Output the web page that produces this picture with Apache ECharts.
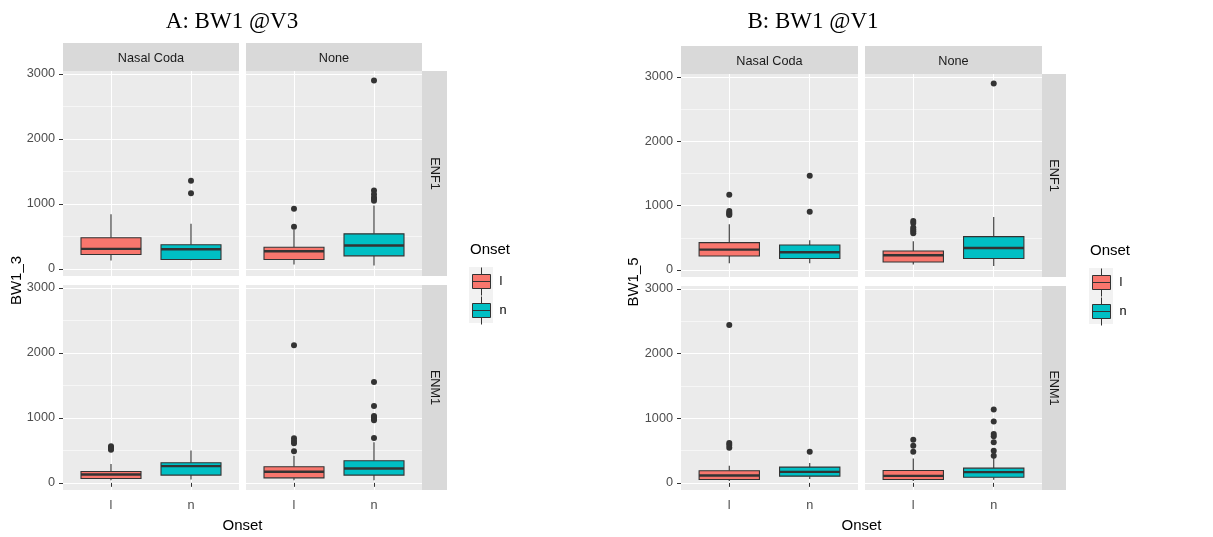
<!DOCTYPE html>
<html>
<head>
<meta charset="utf-8">
<script src="https://cdn.jsdelivr.net/npm/echarts@6/dist/echarts.min.js"></script>
<style>
  html, body { margin: 0; padding: 0; background: #ffffff; }
  #chart { width: 1213px; height: 537px; }
</style>
</head>
<body>
<div id="chart"></div>
<script>
// Factor levels
const onsetLevels = ['l', 'n'];
const codaLevels = ['Nasal Coda', 'None'];
const speakerLevels = ['ENF1', 'ENM1'];
const yTicks = [0, 1000, 2000, 3000];
const yMinorTicks = [500, 1500, 2500];
const yLimits = [-110, 3045];

// Box summaries per onset (l, n): [lower whisker, Q1, median, Q3, upper whisker]
// BW1_3 (A: BW1 @V3)
const bw13_ENF1_nasal = [[128, 220, 308, 478, 841], [133, 143, 302, 370, 693]];
const bw13_ENF1_none  = [[66, 143, 271, 333, 600], [51, 200, 359, 539, 975]];
const bw13_ENM1_nasal = [[41, 67, 129, 175, 290], [51, 119, 258, 310, 496]];
const bw13_ENM1_none  = [[41, 77, 170, 248, 418], [41, 119, 222, 341, 624]];
// outliers per onset (l, n)
const bw13_ENF1_nasal_out = [[], [1356, 1165]];
const bw13_ENF1_none_out  = [[924, 647], [2897, 1206, 1150, 1100, 1075, 1050]];
const bw13_ENM1_nasal_out = [[562, 545, 525, 508], []];
const bw13_ENM1_none_out  = [[2117, 686, 645, 609, 485], [1553, 1182, 1030, 1005, 985, 965, 692]];

// BW1_5 (B: BW1 @V1)
const bw15_ENF1_nasal = [[104, 217, 316, 425, 709], [104, 177, 275, 388, 461]];
const bw15_ENF1_none  = [[84, 124, 228, 295, 445], [62, 177, 341, 518, 822]];
const bw15_ENM1_nasal = [[31, 52, 114, 187, 264], [62, 104, 171, 244, 306]];
const bw15_ENM1_none  = [[31, 52, 109, 192, 378], [47, 88, 166, 228, 384]];
const bw15_ENF1_nasal_out = [[1170, 915, 890, 870, 853], [1464, 906]];
const bw15_ENF1_none_out  = [[760, 730, 660, 630, 600, 570], [2896]];
const bw15_ENM1_nasal_out = [[2440, 615, 585, 545], [482]];
const bw15_ENM1_none_out  = [[668, 575, 482], [1135, 948, 757, 720, 627, 497, 420]];

const fillColors = ['#F8766D', '#00BFC4'];
const ink = '#333333';
const sans = 'Liberation Sans, Arial, sans-serif';
const serif = 'Liberation Serif, Times New Roman, serif';

// Two faceted figures side by side
const figures = [
  {
    title: 'A: BW1 @V3', yTitle: 'BW1_3', titleX: 232,
    colX: [63, 246], colW: 176, rowY: [71, 285], rowH: [205, 205],
    stripTop: 43, stripRightX: 422, stripRightW: 25,
    yTitleX: 17, legendX: 469, legendY: 267,
    stats: [[bw13_ENF1_nasal, bw13_ENF1_none], [bw13_ENM1_nasal, bw13_ENM1_none]],
    outs: [[bw13_ENF1_nasal_out, bw13_ENF1_none_out], [bw13_ENM1_nasal_out, bw13_ENM1_none_out]]
  },
  {
    title: 'B: BW1 @V1', yTitle: 'BW1_5', titleX: 813,
    colX: [681, 865], colW: 177, rowY: [74, 286], rowH: [203, 204],
    stripTop: 46, stripRightX: 1042, stripRightW: 24,
    yTitleX: 634, legendX: 1089, legendY: 268,
    stats: [[bw15_ENF1_nasal, bw15_ENF1_none], [bw15_ENM1_nasal, bw15_ENM1_none]],
    outs: [[bw15_ENF1_nasal_out, bw15_ENF1_none_out], [bw15_ENM1_nasal_out, bw15_ENM1_none_out]]
  }
];

// ggplot-style box: whiskers without caps, thick median bar
function renderBox(params, api) {
  const x = api.value(0);
  const p = [1, 2, 3, 4, 5].map(i => api.coord([x, api.value(i)]));
  const half = api.size([0.75, 0])[0] / 2;
  const cx = p[0][0];
  const fill = api.visual('color');
  return {
    type: 'group',
    children: [
      { type: 'line', shape: { x1: cx, y1: p[0][1], x2: cx, y2: p[1][1] }, style: { stroke: ink, lineWidth: 1.1 } },
      { type: 'line', shape: { x1: cx, y1: p[3][1], x2: cx, y2: p[4][1] }, style: { stroke: ink, lineWidth: 1.1 } },
      { type: 'rect', shape: { x: cx - half, y: p[3][1], width: half * 2, height: p[1][1] - p[3][1] },
        style: { fill: fill, stroke: ink, lineWidth: 1.1 } },
      { type: 'line', shape: { x1: cx - half, y1: p[2][1], x2: cx + half, y2: p[2][1] }, style: { stroke: ink, lineWidth: 2.4 } }
    ]
  };
}

const grids = [], xAxes = [], yAxes = [], series = [], graphics = [], legends = [];

figures.forEach(fig => {
  // figure title
  graphics.push({ type: 'text', x: fig.titleX, y: 22,
    style: { text: fig.title, font: '23px ' + serif, fill: '#000', align: 'center', verticalAlign: 'middle' } });

  // column strips
  codaLevels.forEach((lab, c) => {
    graphics.push({ type: 'rect', shape: { x: fig.colX[c], y: fig.stripTop, width: fig.colW, height: fig.rowY[0] - fig.stripTop },
      style: { fill: '#D9D9D9' }, z: -1 });
    graphics.push({ type: 'text', x: fig.colX[c] + fig.colW / 2, y: (fig.stripTop + fig.rowY[0]) / 2 + 1,
      style: { text: lab, font: '12.7px ' + sans, fill: '#1A1A1A', align: 'center', verticalAlign: 'middle' } });
  });
  // row strips
  speakerLevels.forEach((lab, r) => {
    graphics.push({ type: 'rect', shape: { x: fig.stripRightX, y: fig.rowY[r], width: fig.stripRightW, height: fig.rowH[r] },
      style: { fill: '#D9D9D9' }, z: -1 });
    graphics.push({ type: 'text', x: fig.stripRightX + fig.stripRightW / 2, y: fig.rowY[r] + fig.rowH[r] / 2,
      rotation: -Math.PI / 2,
      style: { text: lab, font: '12.7px ' + sans, fill: '#1A1A1A', align: 'center', verticalAlign: 'middle' } });
  });

  // axis titles
  graphics.push({ type: 'text', x: fig.yTitleX, y: (fig.rowY[0] + fig.rowY[1] + fig.rowH[1]) / 2, rotation: Math.PI / 2,
    style: { text: fig.yTitle, font: '15px ' + sans, fill: '#000', align: 'center', verticalAlign: 'middle' } });
  graphics.push({ type: 'text', x: (fig.colX[0] + fig.colX[1] + fig.colW) / 2, y: 526,
    style: { text: 'Onset', font: '15px ' + sans, fill: '#000', align: 'center', verticalAlign: 'middle' } });

  // legend title and key background
  graphics.push({ type: 'text', x: fig.legendX + 1, y: fig.legendY - 17,
    style: { text: 'Onset', font: '15px ' + sans, fill: '#000', align: 'left', verticalAlign: 'middle' } });
  graphics.push({ type: 'rect', shape: { x: fig.legendX, y: fig.legendY, width: 24, height: 56 },
    style: { fill: '#F2F2F2' }, z: -1 });

  legends.push({
    data: onsetLevels.map((name, k) => ({ name, itemStyle: { color: fillColors[k], borderColor: ink, borderWidth: 1 } })),
    orient: 'vertical', left: fig.legendX + 3, top: fig.legendY, padding: 0,
    itemWidth: 18, itemHeight: 28, itemGap: 0,
    icon: 'path://M12,0 L12,7 M3,7 L21,7 L21,21 L3,21 Z M3,14 L21,14 M12,21 L12,28',
    selectedMode: false,
    textStyle: { fontFamily: sans, fontSize: 12.7, color: '#000', padding: [0, 0, 0, 4] }
  });

  // facet panels
  [0, 1].forEach(r => {
    [0, 1].forEach(c => {
      const g = grids.length;
      const bottomRow = r === 1, leftCol = c === 0;
      grids.push({ left: fig.colX[c], top: fig.rowY[r], width: fig.colW, height: fig.rowH[r],
        show: true, backgroundColor: '#EBEBEB', borderWidth: 0 });
      xAxes.push({
        gridIndex: g, type: 'value', min: 0.4, max: 2.6,
        axisLine: { show: false },
        axisTick: { show: bottomRow, customValues: [1, 2], length: 4, lineStyle: { color: ink, width: 1 } },
        axisLabel: { show: bottomRow, customValues: [1, 2], formatter: v => onsetLevels[Math.round(v) - 1],
          color: '#4D4D4D', fontFamily: sans, fontSize: 12.7, margin: 9 },
        splitLine: { show: true, lineStyle: { color: '#FFFFFF', width: 1.1 } }
      });
      yAxes.push({
        gridIndex: g, type: 'value', min: yLimits[0], max: yLimits[1], position: 'left',
        axisLine: { show: false },
        axisTick: { show: leftCol, customValues: yTicks, length: 4, lineStyle: { color: ink, width: 1 } },
        axisLabel: { show: leftCol, customValues: yTicks, formatter: v => String(v),
          color: '#4D4D4D', fontFamily: sans, fontSize: 12.7, margin: 8 },
        splitLine: { show: true, lineStyle: { color: '#FFFFFF', width: 1.1 } }
      });
      yAxes.push({
        gridIndex: g, type: 'value', min: yLimits[0], max: yLimits[1], position: 'left',
        axisLine: { show: false },
        axisTick: { show: false, customValues: yMinorTicks },
        axisLabel: { show: false, customValues: yMinorTicks },
        splitLine: { show: true, lineStyle: { color: '#FFFFFF', width: 0.55 } }
      });

      const stats = fig.stats[r][c];
      const outs = fig.outs[r][c];
      onsetLevels.forEach((name, k) => {
        series.push({
          type: 'custom', name: name, xAxisIndex: g, yAxisIndex: 2 * g,
          itemStyle: { color: fillColors[k] },
          encode: { x: 0, y: [1, 2, 3, 4, 5] },
          data: [[k + 1].concat(stats[k])],
          renderItem: renderBox, z: 3
        });
      });
      series.push({
        type: 'scatter', name: 'outlier', xAxisIndex: g, yAxisIndex: 2 * g,
        symbol: 'circle', symbolSize: 6, z: 4,
        itemStyle: { color: ink, opacity: 1 },
        data: onsetLevels.flatMap((name, k) => outs[k].map(v => [k + 1, v]))
      });
    });
  });
});

const chart = echarts.init(document.getElementById('chart'), null, { renderer: 'canvas' });
chart.setOption({
  animation: false,
  backgroundColor: '#FFFFFF',
  grid: grids,
  xAxis: xAxes,
  yAxis: yAxes,
  legend: legends,
  series: series,
  graphic: { elements: graphics }
});
</script>
</body>
</html>
